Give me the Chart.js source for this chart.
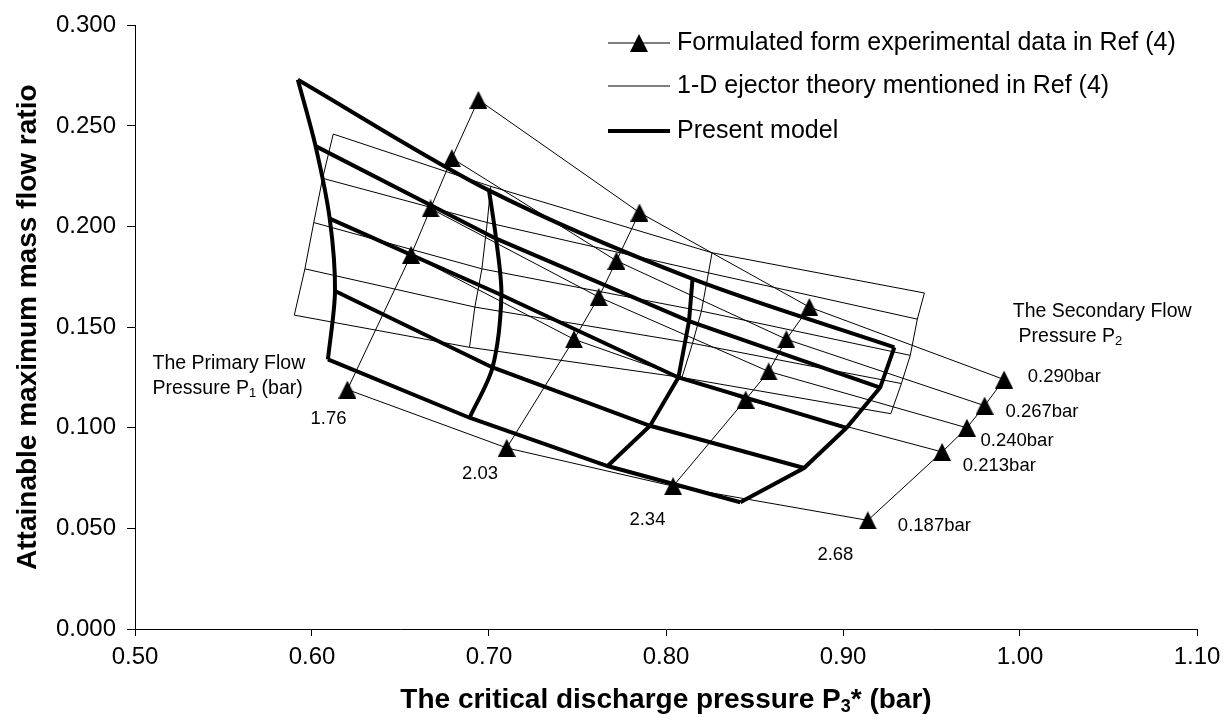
<!DOCTYPE html>
<html>
<head>
<meta charset="utf-8">
<script src="https://cdn.jsdelivr.net/npm/chart.js@4.4.1/dist/chart.umd.min.js"></script>
<style>
  html, body { margin: 0; padding: 0; background: #fff; }
  canvas { display: block; }
</style>
</head>
<body>
<canvas id="chart" width="1232" height="726"></canvas>
<script>
const FAMILY = '"Liberation Sans", Arial, sans-serif';

const primaryLabels = ['1.76', '2.03', '2.34', '2.68'];
const secondaryLabels = ['0.187bar', '0.213bar', '0.240bar', '0.267bar', '0.290bar'];

// formulated from experimental data, Ref (4): one row per primary pressure,
// points run from P2 = 0.187 bar up to 0.290 bar
const expP3 = [
    [0.620, 0.656, 0.667, 0.679, 0.694],
    [0.710, 0.748, 0.762, 0.772, 0.785],
    [0.804, 0.845, 0.858, 0.868, 0.881],
    [0.914, 0.956, 0.970, 0.980, 0.991]
];
const expRatio = [
    [0.119, 0.186, 0.209, 0.234, 0.263],
    [0.090, 0.144, 0.165, 0.183, 0.207],
    [0.071, 0.114, 0.128, 0.144, 0.160],
    [0.054, 0.088, 0.100, 0.111, 0.124]
];

// 1-D ejector theory, Ref (4)
const theoryP3 = [
    [0.590, 0.596, 0.601, 0.606, 0.612],
    [0.689, 0.692, 0.696, 0.699, 0.701],
    [0.809, 0.815, 0.820, 0.824, 0.826],
    [0.927, 0.933, 0.938, 0.942, 0.946]
];
const theoryRatio = [
    [0.156, 0.179, 0.202, 0.224, 0.246],
    [0.140, 0.160, 0.179, 0.202, 0.220],
    [0.125, 0.142, 0.158, 0.177, 0.187],
    [0.107, 0.122, 0.136, 0.154, 0.167]
];

// present model
const modelP3 = [
    [0.609, 0.613, 0.610, 0.602, 0.592],
    [0.689, 0.702, 0.707, 0.704, 0.700],
    [0.767, 0.791, 0.807, 0.813, 0.815],
    [0.842, 0.878, 0.902, 0.921, 0.929]
];
const modelRatio = [
    [0.134, 0.168, 0.204, 0.240, 0.273],
    [0.105, 0.130, 0.166, 0.194, 0.218],
    [0.081, 0.101, 0.125, 0.153, 0.174],
    [0.063, 0.080, 0.100, 0.120, 0.140]
];

const xTicks = [0.5, 0.6, 0.7, 0.8, 0.9, 1.0, 1.1];
const yTicks = [0, 0.05, 0.1, 0.15, 0.2, 0.25, 0.3];

// rows are iso-P1 curves, columns iso-P2 curves
function meshLines(xs, ys, style, rowExtra) {
    const out = [];
    xs.forEach((row, j) => {
        out.push({ data: row.map((x, i) => ({ x, y: ys[j][i] })), ...style, ...(rowExtra || {}) });
    });
    for (let i = 0; i < xs[0].length; i++) {
        out.push({ data: xs.map((row, j) => ({ x: row[i], y: ys[j][i] })), ...style });
    }
    return out;
}

// excel style marker: 18 x 18 filled triangle
function triangleImage(w, h) {
    const c = document.createElement('canvas');
    c.width = w;
    c.height = h;
    const g = c.getContext('2d');
    g.fillStyle = '#000';
    g.beginPath();
    g.moveTo(w / 2, 0);
    g.lineTo(w, h);
    g.lineTo(0, h);
    g.closePath();
    g.fill();
    return c;
}
const marker = triangleImage(18, 18);

const thin = { showLine: true, borderColor: '#000', borderWidth: 1, pointRadius: 0, tension: 0 };
const bold = { showLine: true, borderColor: '#000', borderWidth: 4, pointRadius: 0, tension: 0, borderJoinStyle: 'miter' };
const triangles = { pointStyle: marker, pointRadius: 9, pointBackgroundColor: '#000', pointBorderWidth: 0 };

const modelLines = meshLines(modelP3, modelRatio, bold);
// the left and second iso-P1 curves and the top curve are smooth in the original
[0, 1, 8].forEach(k => { modelLines[k].tension = 0.3; });

const datasets = [
    ...meshLines(expP3, expRatio, thin, triangles),
    ...meshLines(theoryP3, theoryRatio, thin),
    ...modelLines
];

function drawRich(ctx, parts, x, y, size, weight, align) {
    const fontFor = sub => `${weight} ${sub ? Math.round(size * 0.65) : size}px ${FAMILY}`;
    let w = 0;
    parts.forEach(([t, sub]) => { ctx.font = fontFor(sub); w += ctx.measureText(t).width; });
    let cx = align === 'center' ? x - w / 2 : x;
    ctx.textAlign = 'left';
    parts.forEach(([t, sub]) => {
        ctx.font = fontFor(sub);
        ctx.fillText(t, cx, sub ? y + size * 0.26 : y);
        cx += ctx.measureText(t).width;
    });
}

const overlay = {
    id: 'overlay',
    afterDraw(chart) {
        const { ctx } = chart;
        const sx = chart.scales.x, sy = chart.scales.y;
        const px = v => sx.getPixelForValue(v), py = v => sy.getPixelForValue(v);
        ctx.save();
        ctx.fillStyle = '#000';
        ctx.strokeStyle = '#000';
        ctx.textBaseline = 'middle';

        // legend
        const legend = [
            { text: 'Formulated form experimental data in Ref (4)', y: 43, w: 1, mark: true },
            { text: '1-D ejector theory mentioned in Ref (4)', y: 86, w: 1 },
            { text: 'Present model', y: 131, w: 4 }
        ];
        legend.forEach(l => {
            ctx.lineWidth = l.w;
            ctx.beginPath();
            ctx.moveTo(608, l.y);
            ctx.lineTo(670, l.y);
            ctx.stroke();
            if (l.mark) ctx.drawImage(marker, 639 - 9, l.y - 9);
            ctx.font = `25px ${FAMILY}`;
            ctx.textAlign = 'left';
            ctx.fillText(l.text, 677, l.y);
        });

        // annotations
        drawRich(ctx, [['The Primary Flow', false]], px(0.5099), py(0.1319), 19.5, 'normal', 'left');
        drawRich(ctx, [['Pressure P', false], ['1', true], [' (bar)', false]], px(0.5099), py(0.1196), 19.5, 'normal', 'left');
        drawRich(ctx, [['The Secondary Flow', false]], px(0.9959), py(0.1576), 19.5, 'normal', 'left');
        drawRich(ctx, [['Pressure P', false], ['2', true]], px(0.9992), py(0.1453), 19.5, 'normal', 'left');

        const primaryAt = [[0.6093, 0.1043], [0.6949, 0.0771], [0.7895, 0.0544], [0.8957, 0.0367]];
        ctx.font = `18.5px ${FAMILY}`;
        ctx.textAlign = 'center';
        primaryLabels.forEach((t, k) => ctx.fillText(t, px(primaryAt[k][0]), py(primaryAt[k][1])));

        const secondaryAt = [[0.9310, 0.0510], [0.9677, 0.0811], [0.9777, 0.0935], [0.9918, 0.1078], [1.0044, 0.1255]];
        ctx.textAlign = 'left';
        secondaryLabels.forEach((t, k) => ctx.fillText(t, px(secondaryAt[k][0]), py(secondaryAt[k][1])));

        // x axis title with subscript
        const cx = (chart.chartArea.left + chart.chartArea.right) / 2;
        drawRich(ctx, [['The critical discharge pressure P', false], ['3', true], ['* (bar)', false]], cx, 700, 28, 'bold', 'center');
        ctx.restore();
    }
};

new Chart(document.getElementById('chart').getContext('2d'), {
    type: 'scatter',
    data: { datasets },
    options: {
        responsive: false,
        animation: false,
        events: [],
        layout: { padding: { top: 21, right: 35, left: 0, bottom: 0 } },
        plugins: { legend: { display: false }, tooltip: { enabled: false } },
        scales: {
            x: {
                type: 'linear',
                min: 0.5,
                max: 1.1,
                afterBuildTicks: s => { s.ticks = xTicks.map(v => ({ value: v })); },
                ticks: { callback: v => v.toFixed(2), color: '#000', padding: 7, font: { family: FAMILY, size: 24 } },
                grid: { drawOnChartArea: false, tickLength: 7, color: '#000' },
                border: { color: '#000', width: 1 },
                afterFit: s => { s.height = 97; }
            },
            y: {
                type: 'linear',
                min: 0,
                max: 0.3,
                afterBuildTicks: s => { s.ticks = yTicks.map(v => ({ value: v })); },
                ticks: { callback: v => v.toFixed(3), color: '#000', padding: 11, font: { family: FAMILY, size: 24 } },
                grid: { drawOnChartArea: false, tickLength: 8, color: '#000' },
                border: { color: '#000', width: 1 },
                title: {
                    display: true,
                    text: 'Attainable maximum mass flow ratio',
                    color: '#000',
                    font: { family: FAMILY, size: 28, weight: 'bold' },
                    padding: { top: 11, bottom: 0 }
                },
                afterFit: s => { s.width = 135; }
            }
        }
    },
    plugins: [overlay]
});
</script>
</body>
</html>
